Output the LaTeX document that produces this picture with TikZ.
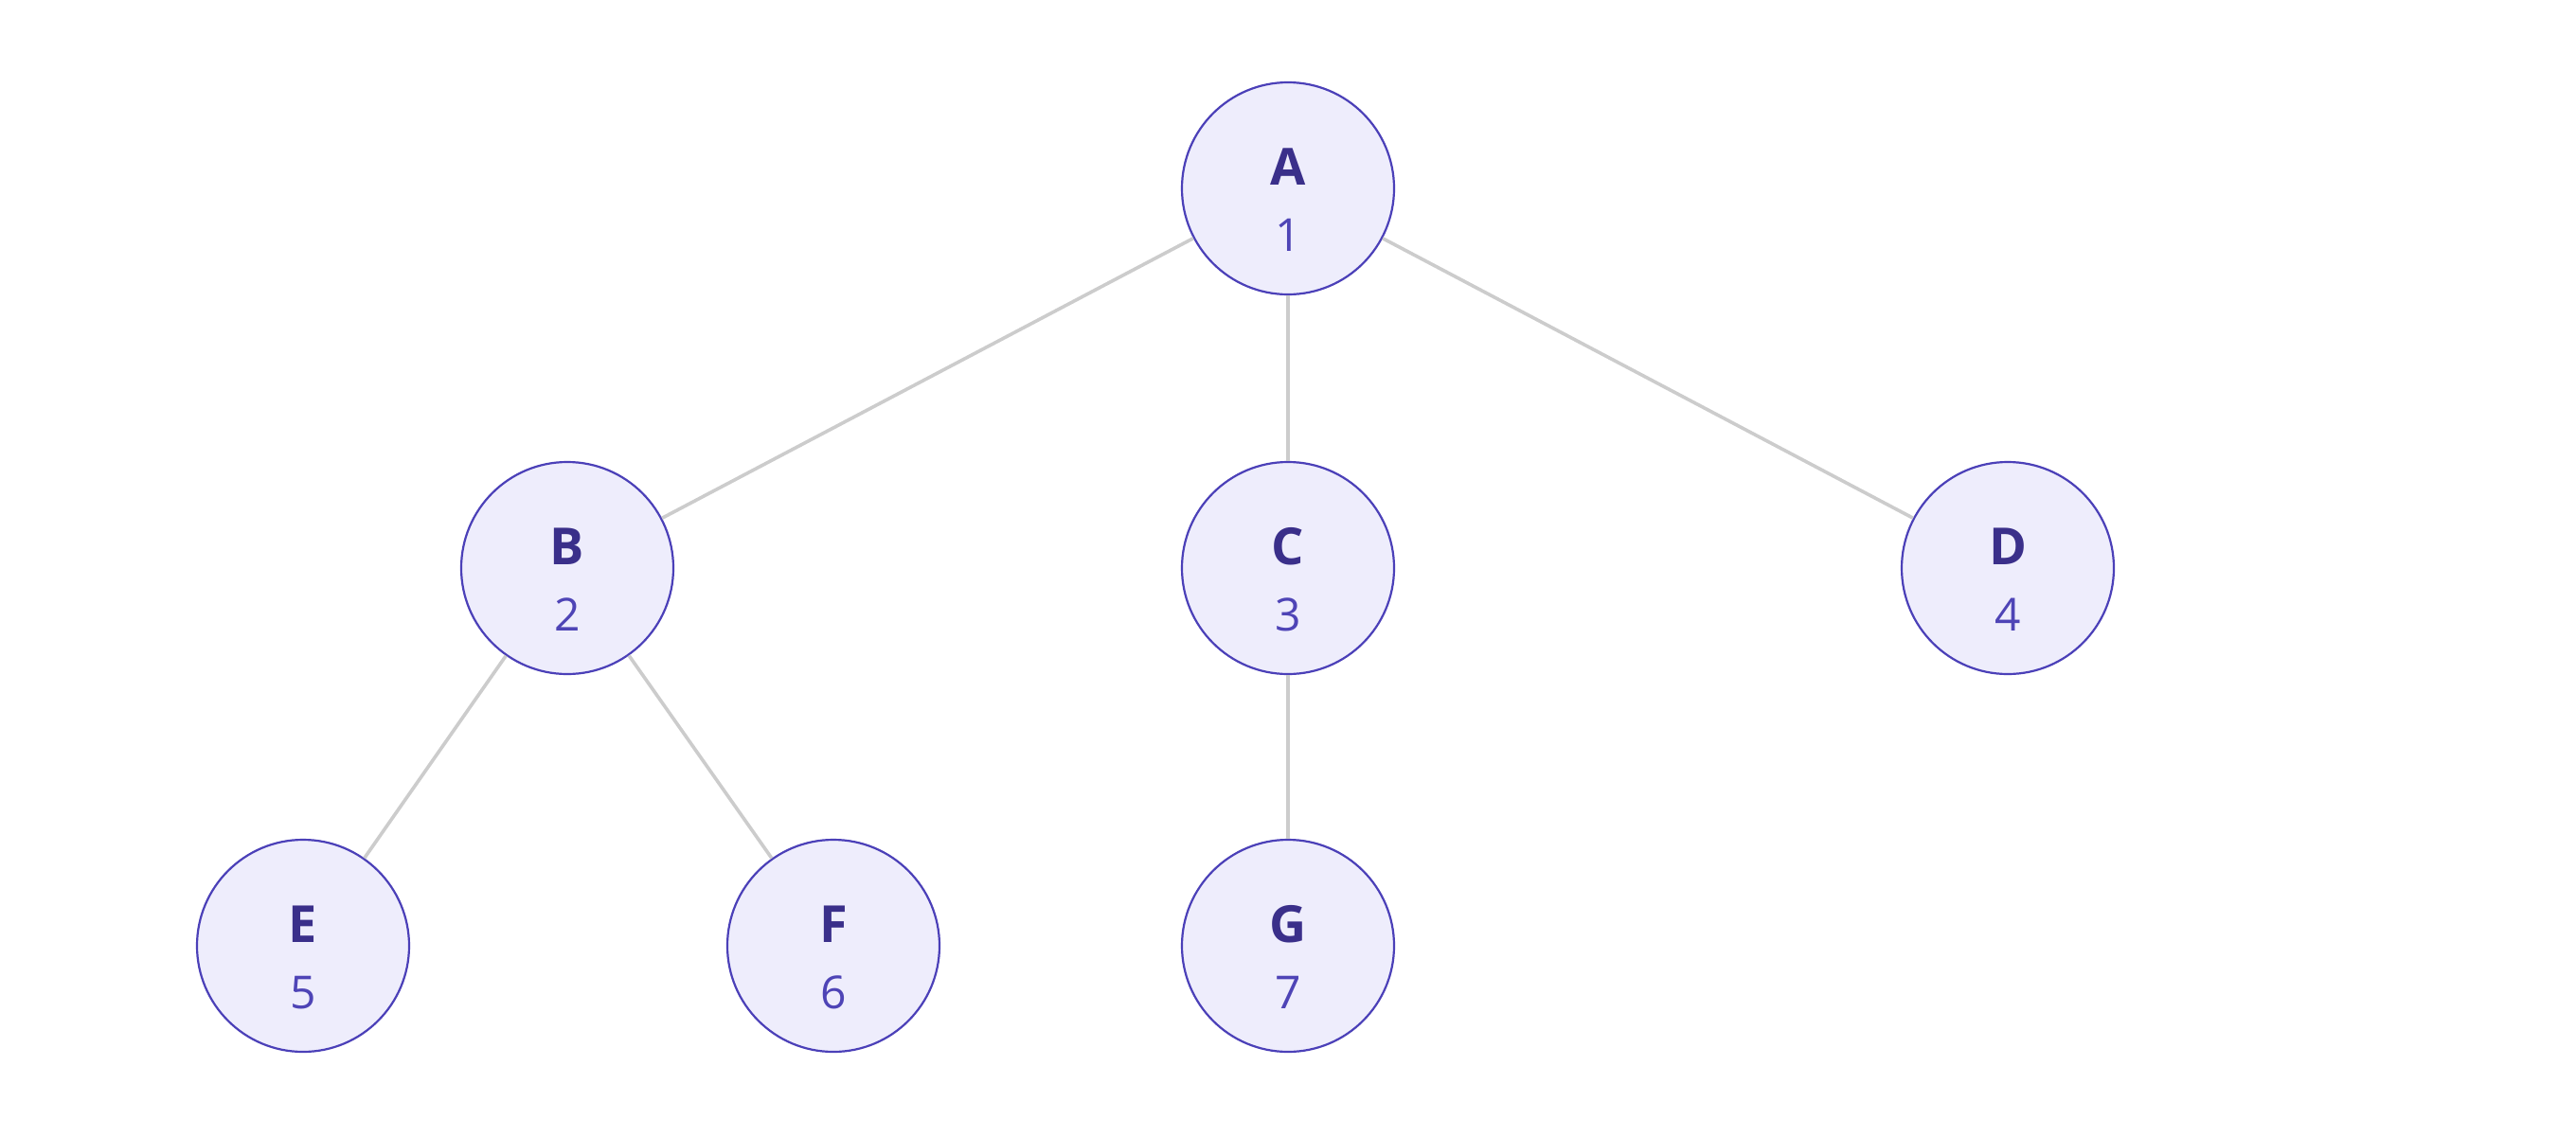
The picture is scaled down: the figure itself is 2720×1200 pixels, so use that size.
\documentclass[tikz,border=0pt]{standalone}
\usepackage{fontspec}
\setmainfont{Open Sans}
\definecolor{nodefill}{HTML}{EEEDFC}
\definecolor{nodeline}{HTML}{4B40B8}
\definecolor{lettercol}{HTML}{3A2F8A}
\definecolor{numcol}{HTML}{4E44B6}
\definecolor{edgecol}{HTML}{CCCCCC}
\tikzset{
  treenode/.style={circle, draw=nodeline, fill=nodefill, line width=2.2pt, minimum size=224pt, inner sep=0pt},
  letter/.style={font=\fontsize{54}{60}\selectfont\bfseries, text=lettercol, anchor=base, inner sep=0pt},
  num/.style={font=\fontsize{48}{56}\selectfont, text=numcol, anchor=base, inner sep=0pt},
  edge/.style={draw=edgecol, line width=3.6pt}
}
\begin{document}
\begin{tikzpicture}[x=1pt,y=-1pt]
\useasboundingbox (0,0) rectangle (2720,1200);
\node[treenode] (A) at (1360,199) {};
\node[treenode] (B) at (599,600) {};
\node[treenode] (C) at (1360,600) {};
\node[treenode] (D) at (2120,600) {};
\node[treenode] (E) at (320,999) {};
\node[treenode] (F) at (880,999) {};
\node[treenode] (G) at (1360,999) {};
\draw[edge] (A) -- (B);
\draw[edge] (A) -- (C);
\draw[edge] (A) -- (D);
\draw[edge] (B) -- (E);
\draw[edge] (B) -- (F);
\draw[edge] (C) -- (G);
\foreach \n/\l/\d in {A/A/1,B/B/2,C/C/3,D/D/4,E/E/5,F/F/6,G/G/7}{
  \node[letter] (\n l) at ([yshift=4pt]\n.center) {\l};
  \node[num] (\n d) at ([yshift=-66pt]\n.center) {\d};
}
\end{tikzpicture}
\end{document}
